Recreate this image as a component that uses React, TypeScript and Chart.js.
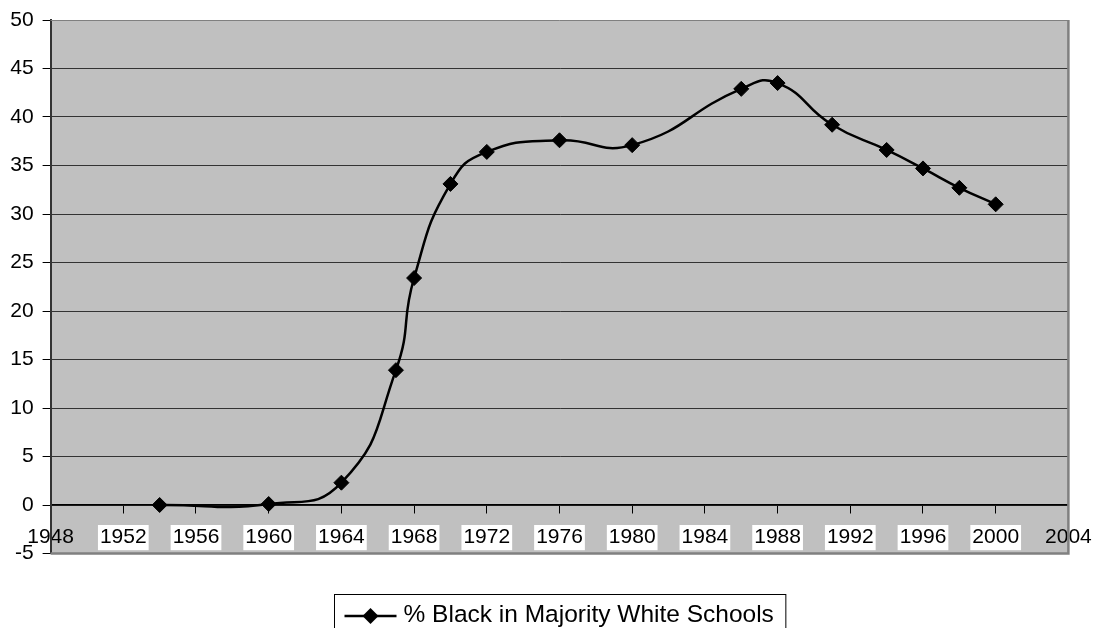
import React, { useEffect, useRef } from 'react';
import { Chart, registerables } from 'chart.js';

Chart.register(...registerables);

const years = [1954, 1960, 1964, 1967, 1968, 1970, 1972, 1976, 1980, 1986, 1988, 1991, 1994, 1996, 1998, 2000];
const values = [0, 0.1, 2.3, 13.9, 23.4, 33.1, 36.4, 37.6, 37.1, 42.9, 43.5, 39.2, 36.6, 34.7, 32.7, 31.0];
const seriesLabel = '% Black in Majority White Schools';
const xMin = 1948;
const xMax = 2004;
const xStep = 4;
const yMin = -5;
const yMax = 50;
const yStep = 5;

const FAMILY = '"Liberation Sans", Arial, Helvetica, sans-serif';

const bgPlugin = {
  id: 'plotBg',
  beforeDraw(chart: any) {
    const { ctx, chartArea: a } = chart;
    ctx.save();
    ctx.fillStyle = '#C0C0C0';
    ctx.fillRect(a.left, a.top, a.right - a.left, a.bottom - a.top);
    ctx.restore();
  },
};

const borderPlugin = {
  id: 'plotBorder',
  beforeDatasetsDraw(chart: any) {
    const { ctx, chartArea: a } = chart;
    ctx.save();
    ctx.strokeStyle = '#808080';
    ctx.lineWidth = 1;
    ctx.beginPath();
    ctx.moveTo(a.left, a.top + 0.5);
    ctx.lineTo(a.right, a.top + 0.5);
    ctx.stroke();
    ctx.lineWidth = 2.5;
    ctx.beginPath();
    ctx.moveTo(a.right, a.top);
    ctx.lineTo(a.right, a.bottom);
    ctx.lineTo(a.left, a.bottom);
    ctx.stroke();
    ctx.restore();
  },
};

const legendPlugin = {
  id: 'boxLegend',
  afterDraw(chart: any) {
    const { ctx, chartArea: a } = chart;
    const label = chart.data.datasets[0].label as string;
    ctx.save();
    ctx.font = '24.5px ' + FAMILY;
    const textW = ctx.measureText(label).width;
    const padL = 10;
    const lineLen = 52;
    const gap = 7;
    const padR = 12;
    const boxW = padL + lineLen + gap + textW + padR;
    const cx = (a.left + a.right) / 2;
    const left = Math.round(cx - boxW / 2) + 0.5;
    const top = 594.5;
    ctx.strokeStyle = '#000';
    ctx.lineWidth = 1;
    ctx.strokeRect(left, top, boxW, 60);
    const cy = 616;
    ctx.lineWidth = 2.5;
    ctx.beginPath();
    ctx.moveTo(left + padL, cy);
    ctx.lineTo(left + padL + lineLen, cy);
    ctx.stroke();
    const mx = left + padL + lineLen / 2;
    const r = 8;
    ctx.fillStyle = '#000';
    ctx.beginPath();
    ctx.moveTo(mx, cy - r);
    ctx.lineTo(mx + r, cy);
    ctx.lineTo(mx, cy + r);
    ctx.lineTo(mx - r, cy);
    ctx.closePath();
    ctx.fill();
    ctx.textAlign = 'left';
    ctx.textBaseline = 'alphabetic';
    ctx.fillText(label, left + padL + lineLen + gap, 622);
    ctx.restore();
  },
};

export default function App() {
  const ref = useRef<HTMLCanvasElement>(null);
  useEffect(() => {
    const canvas = ref.current!;
    const font = { size: 21, family: FAMILY };
    const chart = new Chart(canvas, {
      type: 'scatter',
      data: {
        datasets: [
          {
            label: seriesLabel,
            data: years.map((x, i) => ({ x, y: values[i] })),
            showLine: true,
            borderColor: '#000',
            borderWidth: 2.5,
            tension: 0.5,
            pointStyle: 'rectRot',
            pointRadius: 7.5,
            pointHoverRadius: 7.5,
            pointBackgroundColor: '#000',
            pointBorderColor: '#000',
            pointBorderWidth: 1,
          },
        ],
      },
      options: {
        responsive: false,
        animation: false,
        events: [],
        layout: { padding: { left: 0, top: 20, right: 24.6, bottom: 74.5 } },
        scales: {
          x: {
            type: 'linear',
            position: { y: 0 } as any,
            min: xMin,
            max: xMax,
            grid: { drawOnChartArea: false, drawTicks: true, tickLength: 8, color: '#000', lineWidth: 1 },
            border: { display: true, color: '#000', width: 1.5 },
            ticks: {
              stepSize: xStep,
              autoSkip: false,
              maxRotation: 0,
              padding: 12,
              font,
              color: '#000',
              callback: (v: any) => String(v),
              showLabelBackdrop: (c: any) => c.tick && c.tick.value !== xMin && c.tick.value !== xMax,
              backdropColor: '#fff',
              backdropPadding: { x: 2, y: 0 },
            } as any,
            afterFit: (s: any) => {
              s.paddingLeft = 0;
              s.paddingRight = 0;
            },
          },
          y: {
            type: 'linear',
            position: 'left',
            min: yMin,
            max: yMax,
            grid: {
              color: (c: any) => (c.tick && (c.tick.value === yMin || c.tick.value === yMax) ? 'rgba(0,0,0,0)' : '#333'),
              tickColor: '#000',
              tickLength: 8,
              lineWidth: 1,
            },
            border: { display: true, color: '#333', width: 2 },
            ticks: {
              stepSize: yStep,
              padding: 9,
              font,
              color: '#000',
              callback: (v: any) => String(v),
            },
            afterFit: (s: any) => {
              s.width = 50.6;
              s.paddingTop = 0;
              s.paddingBottom = 0;
            },
          },
        },
        plugins: { legend: { display: false }, tooltip: { enabled: false } },
      },
      plugins: [bgPlugin, borderPlugin, legendPlugin],
    });
    return () => chart.destroy();
  }, []);
  return (
    <div style={{ position: 'fixed', left: 0, top: 0, width: 1093, height: 628, overflow: 'hidden', background: '#fff' }}>
      <canvas ref={ref} width={1093} height={628} style={{ display: 'block' }} />
    </div>
  );
}
